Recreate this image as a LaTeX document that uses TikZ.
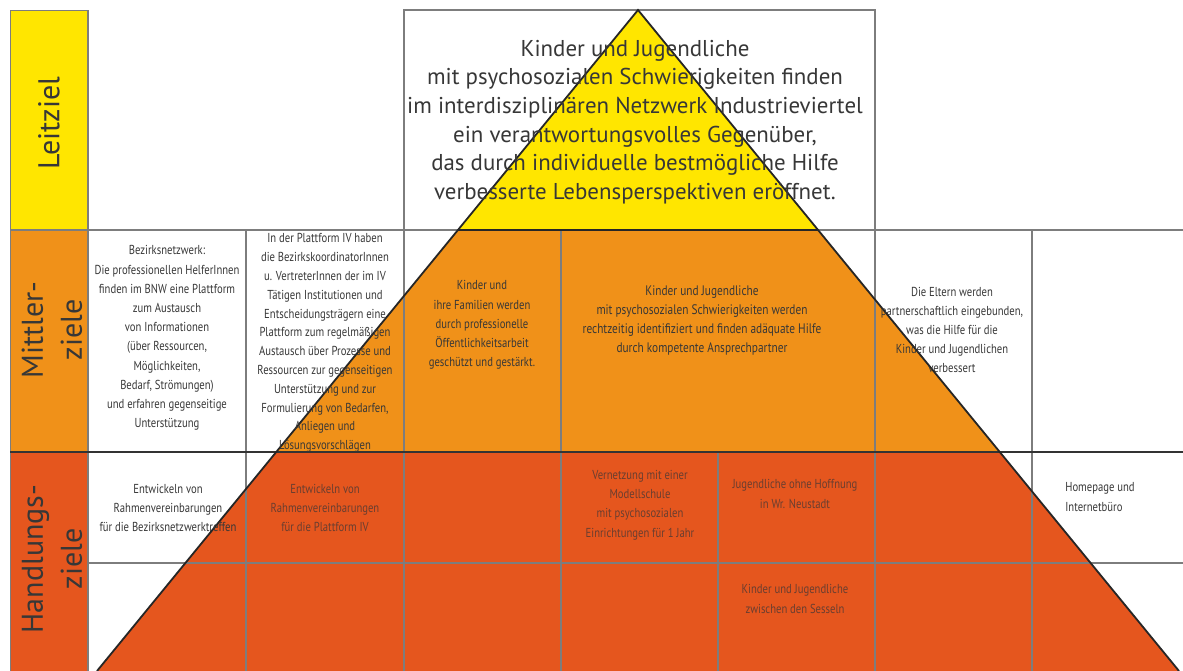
\documentclass[tikz,border=0pt]{standalone}
\usepackage{fontspec}
\setmainfont{PT Sans}
\newfontfamily\condfont[FakeStretch=0.82]{PT Sans}
\usetikzlibrary{positioning}
\definecolor{leityellow}{RGB}{255,230,0}
\definecolor{mittelorange}{RGB}{240,145,25}
\definecolor{handlred}{RGB}{229,86,30}
\definecolor{gridgray}{RGB}{125,125,125}
\definecolor{txtgray}{RGB}{55,55,55}
\definecolor{txtred}{RGB}{105,62,48}

\begin{document}
\begin{tikzpicture}[x=1pt, y=1pt,
  grid/.style={gridgray, line width=1.4pt},
  edge/.style={black!85, line width=1.8pt},
  rowname/.style={rotate=90, align=center, text=txtgray, font=\fontsize{30}{39}\selectfont},
  cell/.style={align=center, text=txtgray, font=\condfont\fontsize{13}{19.2}\selectfont},
  redcell/.style={cell, text=txtred}]
\useasboundingbox (0,0) rectangle (1183,671);

% pyramid levels
\fill[leityellow] (638,661) -- (818,441) -- (458,441) -- cycle;
\fill[mittelorange] (458,441) -- (818,441) -- (1000,219) -- (276,219) -- cycle;
\fill[handlred] (276,219) -- (1000,219) -- (1179,0) -- (97,0) -- cycle;

% row names column
\fill[leityellow] (10,441) rectangle (88,661);
\fill[mittelorange] (10,219) rectangle (88,441);
\fill[handlred] (10,0) rectangle (88,219);
\draw[grid, line width=0.8pt] (10,0) -- (10,661) -- (88,661);
\draw[grid] (88,0) -- (88,661);

% grid
\draw[grid] (404,441) rectangle (875,661);
\draw[grid] (10,441) -- (1183,441);
\foreach \x in {246,404,561,875,1032} \draw[grid] (\x,219) -- (\x,441);
\draw[grid] (88,108) -- (1183,108);
\foreach \x in {246,404,561,718,875,1032} \draw[grid] (\x,0) -- (\x,219);
\draw[black!80, line width=2.4pt] (10,219) -- (1183,219);

% pyramid outline
\draw[edge] (97,0) -- (638,661) -- (1179,0);
\draw[edge] (458,441) -- (818,441);

\node[rowname] (leit) at (49,548) {Leitziel};
\node[rowname] (mittler) at (52,341) {Mittler-\\ziele};
\node[rowname] (handl) at (52,112) {Handlungs-\\ziele};

\node[align=center, text=txtgray, font=\fontsize{22.9}{28.6}\selectfont] (leitziel) at (635,549)
  {Kinder und Jugendliche\\mit psychosozialen Schwierigkeiten finden\\im interdisziplinären Netzwerk Industrieviertel\\ein verantwortungsvolles Gegenüber,\\das durch individuelle bestmögliche Hilfe\\verbesserte Lebensperspektiven eröffnet.};

\node[cell] (bnw) at (167,333)
  {Bezirksnetzwerk:\\Die professionellen HelferInnen\\finden im BNW eine Plattform\\zum Austausch\\von Informationen\\(über Ressourcen,\\Möglichkeiten,\\Bedarf, Strömungen)\\und erfahren gegenseitige\\Unterstützung};
\node[cell, font=\condfont\fontsize{13}{18.8}\selectfont] (pfiv) at (325,328)
  {In der Plattform IV haben\\die BezirkskoordinatorInnen\\u. VertreterInnen der im IV\\Tätigen Institutionen und\\Entscheidungsträgern eine\\Plattform zum regelmäßigen\\Austausch über Prozesse und\\Ressourcen zur gegenseitigen\\Unterstützung und zur\\Formulierung von Bedarfen,\\Anliegen und\\Lösungsvorschlägen};
\node[cell] (familien) at (482,346)
  {Kinder und\\ihre Familien werden\\durch professionelle\\Öffentlichkeitsarbeit\\geschützt und gestärkt.};
\node[cell, font=\condfont\fontsize{13.8}{19}\selectfont] (hilfe) at (702,350)
  {Kinder und Jugendliche\\mit psychosozialen Schwierigkeiten werden\\rechtzeitig identifiziert und finden adäquate Hilfe\\durch kompetente Ansprechpartner};
\node[cell] (eltern) at (952,341)
  {Die Eltern werden\\partnerschaftlich eingebunden,\\was die Hilfe für die\\Kinder und Jugendlichen\\verbessert};

\node[cell] (rahmenbnw) at (168,163)
  {Entwickeln von\\Rahmenvereinbarungen\\für die Bezirksnetzwerktreffen};
\node[redcell] (rahmenpf) at (325,163)
  {Entwickeln von\\Rahmenvereinbarungen\\für die Plattform IV};
\node[redcell] (schule) at (640,166)
  {Vernetzung mit einer\\Modellschule\\mit psychosozialen\\Einrichtungen für 1 Jahr};
\node[redcell] (hoffnung) at (795,177)
  {Jugendliche ohne Hoffnung\\in Wr. Neustadt};
\node[cell, align=left] (homepage) at (1100,174)
  {Homepage und\\Internetbüro};
\node[redcell] (sesseln) at (795,72)
  {Kinder und Jugendliche\\zwischen den Sesseln};
\end{tikzpicture}
\end{document}
